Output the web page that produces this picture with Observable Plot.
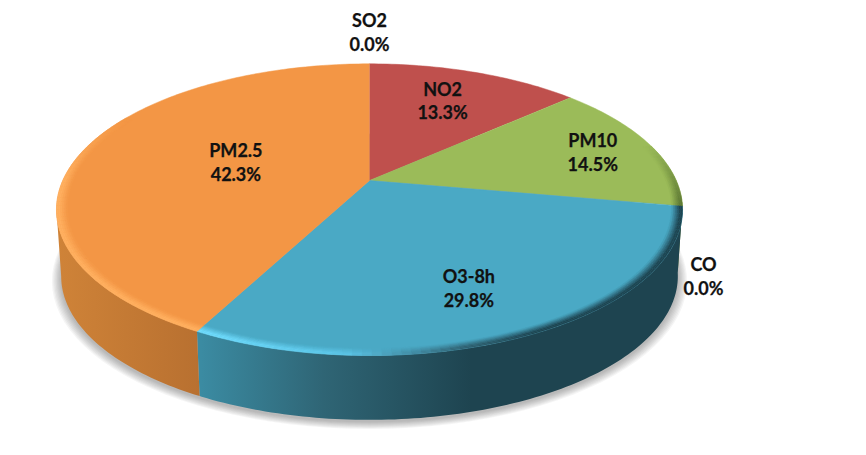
<!DOCTYPE html>
<html>
<head>
<meta charset="utf-8">
<script src="https://cdn.jsdelivr.net/npm/d3@7"></script>
<script src="https://cdn.jsdelivr.net/npm/@observablehq/plot@0.6"></script>
<style>html,body{margin:0;padding:0;background:#fff}svg{display:block}</style>
</head>
<body>
<div id="chart"></div>
<script>
// Data
const names  = ["NO2", "PM10", "CO", "O3-8h", "PM2.5", "SO2"];
const shares = [13.3, 14.5, 0.0, 29.8, 42.3, 0.0];

// Styles and label placement
const topColors  = {"NO2":"#bf504d", "PM10":"#9bbb59", "O3-8h":"#4aa9c5", "PM2.5":"#f39645"};
const labelR     = [0.705, 0.79, 1.065, 0.721, 0.47, 1.352];
const labelTurn  = [-1.5, 0, 0, 3.2, 3.8, 0];
const labelOnWall= [0, 0, 1, 0, 0, 0];

// Pie geometry, in units of the pie's radius
const persp = 0.2, pxX = 306.7, pxY = 140, depth = 67 / pxY, shrink = 0.985;
const rad = d => d * Math.PI / 180;
const project = (r, deg) => {
  const u = r * Math.sin(rad(deg)), v = r * Math.cos(rad(deg)), w = 1 + persp * v;
  return {x: u / w, y: v / w};
};
const lower = p => ({x: p.x * shrink, y: p.y * shrink - depth});
// Angle of the pie's leftmost point, where the wall's silhouette ends
const leftEdge = 360 - Math.acos(-persp) * 180 / Math.PI;

const total = d3.sum(shares);
let acc = 0;
const slices = names.map((name, i) => {
  const a0 = acc / total * 360; acc += shares[i];
  return {name, share: shares[i], a0, a1: acc / total * 360};
});
const angles = (a0, a1, step = 1) => {
  const out = [];
  for (let a = a0; a < a1; a += step) out.push(a);
  out.push(a1);
  return out;
};
const visible = slices.filter(s => s.share > 0);

// Top faces
const tops = visible.flatMap(s => [
  {x: 0, y: 0, k: s.name, c: topColors[s.name]},
  ...angles(s.a0, s.a1).map(a => ({...project(1, a), k: s.name, c: topColors[s.name]}))
]);

// Walls: one outline per slice, filled with a gradient across the pie
const wallStops = {
  "O3-8h": [[-0.55, "#3b8ba2"], [-0.15, "#2f6575"], [0.33, "#1e4450"], [1, "#1e4450"]],
  "PM2.5": [[-1.02, "#cf8338"], [-0.55, "#b87030"]],
  "PM10":  [[0.9, "#5f7a35"], [1.02, "#5f7a35"]]
};
const wallId = name => "wall-" + name.replace(/[^A-Za-z0-9]/g, "");
const wallRange = s => [Math.max(s.a0, 95), Math.min(s.a1, leftEdge)];
const wall = visible.filter(s => wallRange(s)[0] < wallRange(s)[1]).map(s => {
  const [lo, hi] = wallRange(s), as = angles(lo, hi);
  const top = as.map(a => project(1, a));
  return {name: s.name, pts: [...top, ...top.slice().reverse().map(lower)]};
});

// Bevelled rim on the near edge
const blueRim = d3.scaleLinear([-0.6, -0.1, 0.3, 0.55, 1], ["#72deff", "#5cc6e8", "#2f6070", "#1e4450", "#1e4450"]);
const rimOf = (s, a, x) => {
  if (s.name === "PM2.5") return {c: "#ffb060", f: Math.min(1, (300 - a) / 30)};
  if (s.name === "O3-8h") return {c: blueRim(x), f: 1};
  if (s.name === "PM10")  return {c: "#5f7a35", f: Math.max(0, (a - 75) / 25)};
  return {c: null, f: 0};
};
const rimLevels = [0, 1, 2, 3, 4, 5];
const rimWidth = 0.034;
const rim = visible.flatMap(s => angles(Math.max(s.a0, 75), Math.min(s.a1, 300), 1.5).flatMap((a, i, as) => {
  if (i === 0) return [];
  const {c, f} = rimOf(s, a, project(1, a).x);
  if (!c || f <= 0) return [];
  return rimLevels.flatMap(l => {
    const n = rimLevels.length;
    const r0 = 1 - rimWidth * (1 - l / n), r1 = 1 - rimWidth * (1 - (l + 1) / n);
    const col = d3.color(d3.interpolateRgb(topColors[s.name], c)(f * Math.min(1, 1.3 * (l + 0.5) / n))).formatHex();
    return [project(r0, as[i - 1]), project(r0, a), project(r1, a), project(r1, as[i - 1])]
      .map(o => ({...o, k: `${s.name}${a}-${l}`, c: col}));
  });
}));

// Soft shadow below the pie: nested outlines, widest first
const shadowLayers = [0, 1, 2, 3, 4, 5, 6, 7];
const shadow = shadowLayers.flatMap(l => angles(0, 360, 3).map(a => {
  const p = lower(project(1, a)), spread = 1.03 - l * 0.004;
  return {x: p.x * spread, y: p.y * spread - 2 / pxY, k: "shadow" + l};
}));

// Labels
const labels = slices.map((s, i) => {
  const mid = (s.a0 + s.a1) / 2 + labelTurn[i];
  const p = project(labelR[i], mid);
  return {x: p.x, y: p.y - labelOnWall[i] * depth, text: `${s.name}\n${s.share.toFixed(1)}%`};
});

const chart = Plot.plot({
  width: 866, height: 455,
  margin: 0,
  style: {background: "#fff"},
  x: {axis: null, domain: [-369 / pxX, 497 / pxX], range: [0, 866]},
  y: {axis: null, domain: [-275 / pxY, 180 / pxY], range: [455, 0]},
  color: {type: "identity"},
  marks: [
    Plot.line(shadow, {x: "x", y: "y", z: "k", fill: "#333", stroke: "none", fillOpacity: 0.05}),
    ...wall.map(w => Plot.line(w.pts, {x: "x", y: "y", fill: `url(#${wallId(w.name)})`, stroke: "none"})),
    Plot.line(tops, {x: "x", y: "y", z: "k", fill: "c", stroke: "c", strokeWidth: 0.5}),
    Plot.line(rim, {x: "x", y: "y", z: "k", fill: "c", stroke: "c", strokeWidth: 0.4}),
    Plot.text(labels, {
      x: "x", y: "y", text: "text",
      fontFamily: "Lato", fontWeight: 700, fontSize: 18, lineHeight: 1.33,
      fill: "#111", stroke: "#111", strokeWidth: 0.25
    })
  ]
});

// Gradients placed with the chart's own x scale
const xScale = chart.scale("x");
const defs = d3.select(chart).insert("defs", ":first-child");
for (const [name, stops] of Object.entries(wallStops)) {
  const [x0, x1] = d3.extent(stops, d => d[0]);
  const g = defs.append("linearGradient")
    .attr("id", wallId(name))
    .attr("gradientUnits", "userSpaceOnUse")
    .attr("x1", xScale.apply(x0)).attr("x2", xScale.apply(x1))
    .attr("y1", 0).attr("y2", 0);
  for (const [x, c] of stops) {
    g.append("stop").attr("offset", (x - x0) / (x1 - x0)).attr("stop-color", c);
  }
}
document.getElementById("chart").append(chart);
</script>
</body>
</html>
